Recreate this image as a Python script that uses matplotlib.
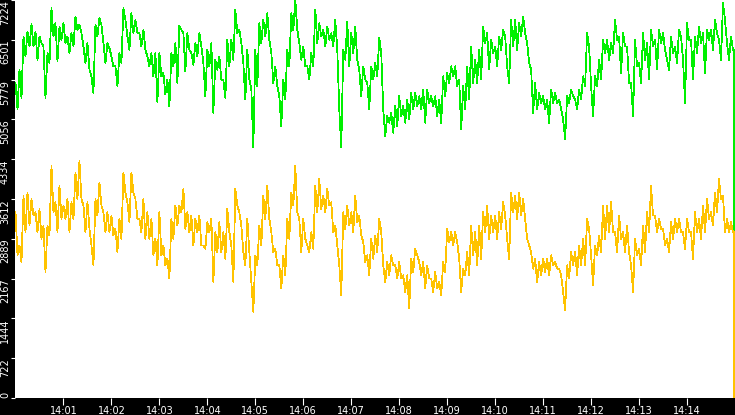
import numpy as np
import pandas as pd
import matplotlib
matplotlib.use('Agg')
import matplotlib.pyplot as plt
import matplotlib.dates as mdates

# every 5 s window from 14:00:00 has a top and a bottom reading
green_hi = [5719, 5960, 6562, 6652, 6791, 6652, 6562, 6381, 6261, 7074,
            6803, 6742, 6803, 6562, 6622, 6923, 6773, 6381, 6441, 5839,
            6773, 6893, 6441, 6441, 6201, 6020, 6261, 7074, 6562, 6983,
            6863, 6622, 6682, 6201, 6261, 6261, 6261, 5900, 5779, 6261,
            6441, 6760, 6622, 6622, 6261, 6441, 6622, 6080, 6321, 6441,
            6140, 6201, 5779, 6502, 6502, 7043, 6682, 6080, 6321, 5599,
            6321, 6803, 6863, 6983, 6261, 6020, 5478, 5779, 6321, 6983,
            7224, 6441, 6381, 6020, 6261, 7055, 6803, 6682, 6742, 6622,
            6863, 5237, 6321, 6833, 6622, 6742, 5960, 6020, 5719, 6020,
            6080, 6532, 5237, 5117, 5177, 5298, 5478, 5298, 5418, 5538,
            5538, 5478, 5599, 5599, 5478, 5478, 5418, 5839, 5900, 6020,
            6020, 5779, 5659, 6020, 6381, 6140, 6321, 6742, 6622, 6502,
            6381, 6562, 6682, 6020, 6863, 6863, 6803, 6923, 6441, 5960,
            5719, 5538, 5478, 5418, 5599, 5538, 5418, 5057, 5478, 5599,
            5418, 5599, 5839, 6622, 5659, 5839, 6140, 6502, 6502, 6441,
            6863, 6562, 6622, 6381, 5719, 6502, 6080, 6622, 6441, 6682,
            6502, 6682, 6622, 6140, 6562, 6381, 6682, 6140, 6803, 6502,
            6562, 6742, 6622, 6682, 6682, 6863, 6502, 7164, 6441, 6562]

green_lo = [5237, 5448, 6201, 6381, 6381, 6140, 6441, 5448, 6080, 6562,
            6110, 6502, 6441, 6261, 6381, 6682, 6622, 6080, 5960, 5538,
            6562, 6773, 6080, 6351, 6020, 5659, 6080, 6863, 6321, 6622,
            6622, 6381, 6321, 6020, 5839, 5370, 5839, 5508, 5298, 6020,
            5719, 6682, 5930, 6321, 6050, 6201, 6381, 5478, 6020, 5177,
            5960, 5779, 5448, 6020, 6140, 6622, 6441, 5418, 5779, 4545,
            5659, 6441, 6562, 6502, 5719, 5659, 4936, 5418, 6020, 6682,
            6682, 6140, 6020, 5779, 6020, 6441, 6562, 6381, 6502, 6381,
            6321, 4545, 6140, 6020, 6261, 6140, 5478, 5779, 5237, 5779,
            5839, 6261, 4756, 4997, 4816, 4936, 5117, 4997, 5057, 5237,
            5298, 5237, 4997, 5358, 5298, 5117, 4997, 5478, 5719, 5839,
            5659, 4876, 5237, 5418, 5719, 5719, 5779, 6441, 5960, 6261,
            6020, 6321, 6562, 5719, 6381, 6321, 6562, 6622, 6080, 5177,
            5237, 5358, 5237, 4997, 5358, 5358, 5237, 4696, 5358, 5478,
            5237, 5418, 5659, 6381, 5117, 5659, 5779, 6261, 6140, 6261,
            6502, 5900, 6381, 5719, 5117, 6020, 5719, 6140, 5779, 6381,
            5960, 6441, 6321, 5960, 6261, 6080, 6562, 5358, 6502, 5779,
            6261, 6441, 5900, 6502, 6321, 6622, 6140, 6863, 6140, 6321]

gold_hi = [3371, 2769, 3672, 3732, 3612, 3371, 3431, 3130, 3130, 4214,
           3552, 3853, 3492, 3612, 3552, 4094, 4304, 3492, 3552, 2769,
           3612, 3913, 3371, 3371, 3311, 3070, 3251, 4094, 3552, 4094,
           3612, 3251, 3612, 3371, 3251, 2890, 3371, 2769, 2528, 3251,
           3492, 3492, 3793, 3371, 3311, 3251, 3311, 2769, 3191, 3251,
           3010, 3191, 3010, 3431, 2769, 3793, 3371, 2649, 3251, 2107,
           2589, 3130, 3672, 3853, 3010, 2709, 2408, 2589, 3251, 3732,
           4214, 3251, 3251, 2769, 3010, 3853, 3973, 3672, 3793, 3552,
           3130, 2408, 3371, 3492, 3371, 3672, 3311, 2829, 2589, 2890,
           2950, 3251, 2408, 2468, 2589, 2408, 2468, 2227, 2227, 2528,
           2709, 2468, 2468, 2408, 2167, 2288, 2107, 2468, 3070, 3010,
           3010, 2528, 2348, 2649, 3130, 3010, 3130, 3371, 3492, 3311,
           3311, 3371, 3552, 2890, 3732, 3672, 3732, 3612, 2890, 2649,
           2528, 2468, 2528, 2528, 2589, 2468, 2348, 1926, 2408, 2649,
           2649, 2769, 2890, 3251, 2589, 2769, 2950, 3492, 3492, 3552,
           3010, 3311, 3010, 3130, 2408, 2890, 2709, 3130, 3371, 3853,
           3311, 3251, 3070, 2890, 3191, 3251, 3251, 3010, 3251, 3010,
           3371, 3251, 3492, 3612, 3371, 3732, 3973, 3672, 3251, 3191]

gold_lo = [2589, 2468, 3010, 3130, 3311, 3010, 2890, 2288, 2950, 3371,
           3010, 3251, 3251, 3010, 3251, 3612, 3612, 3010, 3070, 2408,
           3311, 3492, 3010, 3010, 2950, 2649, 2890, 3732, 3191, 3732,
           3251, 3010, 2890, 2890, 2589, 2408, 2589, 2408, 2167, 2890,
           3130, 3371, 3070, 3010, 2769, 3010, 2769, 2709, 3010, 2107,
           2649, 2649, 2528, 3010, 2107, 3492, 3130, 2408, 2649, 1565,
           2408, 2769, 3251, 3251, 2649, 2408, 1987, 2227, 2890, 3492,
           3371, 2649, 2890, 2649, 2709, 3371, 3431, 3371, 3492, 3010,
           2769, 1866, 3070, 3130, 3010, 3191, 2950, 2468, 2227, 2528,
           2649, 3010, 2107, 2227, 2408, 2167, 2167, 1926, 1625, 2288,
           2589, 2227, 1987, 2167, 1926, 1987, 1866, 2288, 2829, 2769,
           2829, 1926, 2227, 2227, 2589, 2408, 2528, 3010, 2890, 3010,
           2890, 3070, 3311, 2528, 3371, 3251, 3311, 3251, 2769, 2348,
           2107, 2227, 2288, 2227, 2408, 2348, 2227, 1595, 2167, 2408,
           2227, 2408, 2408, 3070, 2047, 2589, 2649, 2890, 3010, 3010,
           2649, 2890, 2649, 2649, 1926, 2589, 2408, 2649, 3010, 3311,
           3010, 3070, 2769, 2649, 2890, 3010, 3010, 2709, 3010, 2528,
           3010, 2890, 3010, 3251, 3130, 3371, 3612, 3010, 3010, 3010]

# last, partial sample at the very end of the window
green_last = 1806
gold_last = 0

y_ticks = [0, 722, 1444, 2167, 2889, 3612, 4334, 5056, 5779, 6501, 7224]

t_hi = pd.date_range('2024-01-01 14:00:00', periods=len(green_hi), freq='5s')
t_lo = t_hi + pd.Timedelta(seconds=2.5)
t_last = pd.Timestamp('2024-01-01 14:14:58.5')


def interleave(hi, lo, last):
    t = []
    v = []
    for a, b, h, l in zip(t_hi, t_lo, hi, lo):
        t += [a, b]
        v += [h, l]
    t += [t_last, t_last]
    v += [v[-1], last]
    return t, v


fig = plt.figure(figsize=(7.35, 4.15), dpi=100, facecolor='black')
ax = fig.add_axes([15.5 / 735, 17 / 415, 1 - 15.5 / 735, 1 - 17 / 415])
ax.set_facecolor('white')

tg, vg = interleave(green_hi, green_lo, green_last)
to, vo = interleave(gold_hi, gold_lo, gold_last)
ax.plot(tg, vg, color='#00f000', lw=0.55, antialiased=False)
ax.plot(to, vo, color='#ffc300', lw=0.55, antialiased=False)

ax.set_xlim(pd.Timestamp('2024-01-01 14:00:00'), pd.Timestamp('2024-01-01 14:15:00'))
ax.set_ylim(0, 7224.5)

ax.xaxis.set_major_locator(mdates.MinuteLocator(byminute=range(1, 15)))
ax.xaxis.set_major_formatter(mdates.DateFormatter('%H:%M'))
ax.set_yticks(y_ticks)
ax.set_yticklabels([str(v) for v in y_ticks], rotation=90, va='top')
# bottom label sits above its tick
ax.get_yticklabels()[0].set_va('bottom')

ax.tick_params(axis='x', colors='white', labelsize=7, length=5, pad=1)
ax.tick_params(axis='y', colors='white', labelsize=7, length=3, pad=1)
for s in ax.spines.values():
    s.set_visible(False)

fig.savefig('out.png', dpi=100, facecolor='black')
